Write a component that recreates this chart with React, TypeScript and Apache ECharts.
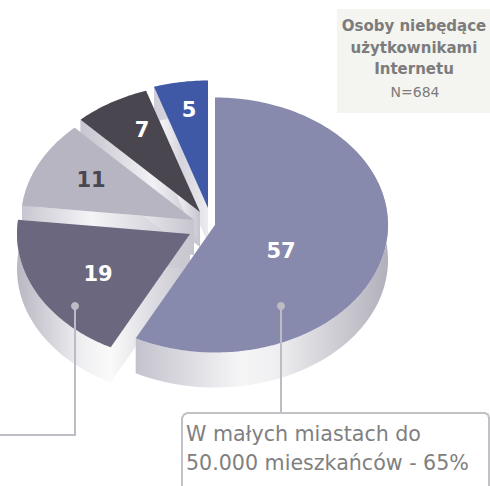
import React, { useEffect, useRef } from "react";
import * as echarts from "echarts";

// Shares of respondents per place of residence, clockwise from twelve o'clock.
const shares = [57, 19, 11, 7, 5];
const sliceNames = ["57", "19", "11", "7", "5"];
const titleLines = ["Osoby niebędące", "użytkownikami", "Internetu"];
const sampleSize = "N=684";
const calloutLines = ["W małych miastach do", "50.000 mieszkańców - 65%"];

const FONT = "'DejaVu Sans', sans-serif";
const CX = 215;
const CY = 225;
const RX = 173;
const RY = 127.5;
const DEPTH = 35;

// Per-slice drawing styles: explosion offset, top colour, label place and colour.
const explode = [[0, 0], [-25, 9], [-21, -5], [-15, -13], [-7, -17]];
const topColors = ["#8789ad", "#6a677e", "#b8b5c3", "#4a4650", "#3f59a7"];
const labelAt = [[281, 251], [98, 274], [91, 180], [142, 130], [189, 110]];
const labelColors = ["#ffffff", "#ffffff", "#4a4751", "#ffffff", "#ffffff"];
const wallStops = [
  [[0, "#c4c2cd"], [0.42, "#f6f5f6"], [0.55, "#f0eff1"], [1, "#b2b0bb"]],
  [[0, "#b9b7c2"], [0.7, "#f0eff2"], [1, "#fafafa"]],
  [[0, "#c8c6d0"], [1, "#e4e3e8"]],
  [[0, "#c8c6d0"], [1, "#e4e3e8"]],
  [[0, "#d0cfd8"], [1, "#e4e3e8"]],
];
const faceStops = [
  [[0, "#f4f4f6"], [1, "#d8d7de"]],
  [[0, "#fafafa"], [0.5, "#dedde3"], [1, "#c9c8d0"]],
  [[0, "#c9c7d1"], [0.4, "#f4f3f5"], [1, "#c6c4ce"]],
  [[0, "#c4c2cc"], [0.6, "#f2f1f4"], [1, "#c6c4ce"]],
  [[0, "#ffffff"], [0.5, "#d6d5de"], [1, "#ecebef"]],
];

const gradient = (stops: any[]) =>
  new echarts.graphic.LinearGradient(
    0, 0, 1, 0,
    stops.map(([offset, color]) => ({ offset, color }))
  );

const total = shares.reduce((a, b) => a + b, 0);
const rimPoint = (ax: number, ay: number, deg: number) => {
  const t = (deg * Math.PI) / 180;
  return [ax + RX * Math.sin(t), ay - RY * Math.cos(t)];
};

// Draws one extruded slice: radial faces, outer wall, top and value label.
function renderSlice(params: any, api: any) {
  const i = params.dataIndex;
  const value = api.value(0);
  const before = shares.slice(0, i).reduce((a, b) => a + b, 0);
  const a1 = (before / total) * 360;
  const a2 = a1 + (value / total) * 360;
  const ax = CX + explode[i][0];
  const ay = CY + explode[i][1];
  const arc: number[][] = [];
  const steps = Math.ceil(a2 - a1);
  for (let s = 0; s <= steps; s++) {
    arc.push(rimPoint(ax, ay, a1 + ((a2 - a1) * s) / steps));
  }
  const down = (p: number[]) => [p[0], p[1] + DEPTH];
  const z2 = (5 - i) * 10;
  const face = (p: number[]) => ({
    type: "polygon",
    z2,
    shape: { points: [[ax, ay], p, down(p), [ax, ay + DEPTH]] },
    style: { fill: gradient(faceStops[i]) },
  });
  return {
    type: "group",
    children: [
      face(arc[0]),
      face(arc[arc.length - 1]),
      {
        type: "polygon",
        z2: z2 + 1,
        shape: { points: [...arc, ...arc.slice().reverse().map(down)] },
        style: { fill: gradient(wallStops[i]) },
      },
      {
        type: "polygon",
        z2: z2 + 2,
        shape: { points: [[ax, ay], ...arc] },
        style: { fill: topColors[i] },
      },
      {
        type: "text",
        z2: 100,
        x: labelAt[i][0],
        y: labelAt[i][1],
        style: {
          text: String(value),
          fill: labelColors[i],
          font: `bold 21px ${FONT}`,
          align: "center",
          verticalAlign: "middle",
        },
      },
    ],
  };
}

const lineStroke = "#bdbcc5";

export default function App() {
  const ref = useRef<HTMLDivElement>(null);
  useEffect(() => {
    const chart = echarts.init(ref.current!, null, { renderer: "svg" });
    chart.setOption({
      animation: false,
      backgroundColor: "#ffffff",
      series: [
        {
          type: "custom",
          coordinateSystem: "none",
          renderItem: renderSlice,
          data: shares.map((v, i) => ({ name: sliceNames[i], value: [v] })),
          silent: true,
        },
      ],
      graphic: [
        { type: "rect", z: 5, shape: { x: 337, y: 9, width: 153, height: 104 }, style: { fill: "#f4f4f0" } },
        ...titleLines.map((t, i) => ({
          type: "text",
          z: 6,
          x: 414,
          y: 26 + i * 21.5,
          style: { text: t, fill: "#7c7c7c", font: `bold 15px ${FONT}`, align: "center", verticalAlign: "middle" },
        })),
        {
          type: "text",
          z: 6,
          x: 415,
          y: 92,
          style: { text: sampleSize, fill: "#7c7c7c", font: `14px ${FONT}`, align: "center", verticalAlign: "middle" },
        },
        { type: "polyline", z: 7, shape: { points: [[281, 306], [281, 413]] }, style: { stroke: lineStroke, lineWidth: 2, fill: "none" } },
        { type: "polyline", z: 7, shape: { points: [[75, 306], [75, 435], [0, 435]] }, style: { stroke: lineStroke, lineWidth: 2, fill: "none" } },
        { type: "circle", z: 8, shape: { cx: 281, cy: 306, r: 4 }, style: { fill: lineStroke } },
        { type: "circle", z: 8, shape: { cx: 75, cy: 306, r: 4 }, style: { fill: lineStroke } },
        {
          type: "polyline",
          z: 7,
          shape: { points: [[182, 486], [182, 418], [184, 414.5], [187, 413], [485, 413], [488, 414.5], [489, 418], [489, 486]] },
          style: { stroke: "#c2c2c6", lineWidth: 2, fill: "none" },
        },
        ...calloutLines.map((t, i) => ({
          type: "text",
          z: 8,
          x: 186,
          y: 434 + i * 29,
          style: { text: t, fill: "#808080", font: `20.6px ${FONT}`, align: "left", verticalAlign: "middle" },
        })),
      ],
    });
    return () => chart.dispose();
  }, []);
  return <div ref={ref} style={{ position: "fixed", left: 0, top: 0, width: 490, height: 486 }} />;
}
